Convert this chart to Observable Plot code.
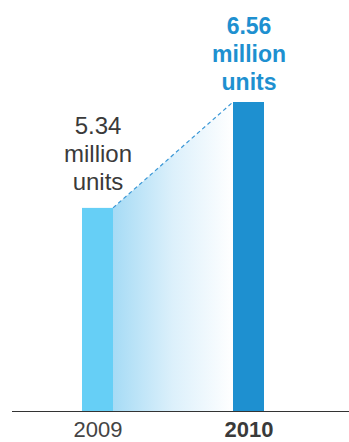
<!DOCTYPE html>
<html>
<head>
<meta charset="utf-8">
<script src="https://cdn.jsdelivr.net/npm/d3@7"></script>
<script src="https://cdn.jsdelivr.net/npm/@observablehq/plot@0.6"></script>
<style>
  html, body { margin: 0; padding: 0; background: #fff; }
  #chart svg { display: block; }
</style>
</head>
<body>
<div id="chart"></div>
<script>
const years = ["2009", "2010"];
const values = [5.34, 6.56];
const labels = ["5.34\nmillion\nunits", "6.56\nmillion\nunits"];
const barColors = ["#66cff6", "#1e90d0"];
const axisBase = 3;

const data = years.map((year, i) => ({year, value: values[i], label: labels[i], color: barColors[i]}));
const first = data.filter(d => d.year === years[0]);
const last = data.filter(d => d.year === years[1]);

const gradientArea = (index, scales) => {
  const x = scales.x, y = scales.y;
  const bw = x.bandwidth ? x.bandwidth() : 31;
  const x0 = x(years[0]) + bw, x1 = x(years[1]);
  const y0 = y(values[0]), y1 = y(values[1]), yb = y(axisBase);
  const g = d3.create("svg:g");
  const grad = g.append("defs").append("linearGradient")
    .attr("id", "fadeGrad").attr("x1", "0").attr("x2", "1").attr("y1", "0").attr("y2", "0");
  grad.append("stop").attr("offset", "0").attr("stop-color", "#a6dbf5");
  grad.append("stop").attr("offset", "0.5").attr("stop-color", "#dcf0fb");
  grad.append("stop").attr("offset", "1").attr("stop-color", "#ffffff");
  g.append("path")
    .attr("d", `M${x0},${y0}L${x1},${y1}L${x1},${yb}L${x0},${yb}Z`)
    .attr("fill", "url(#fadeGrad)");
  g.append("path")
    .attr("d", `M${x0},${y0}L${x1},${y1}`)
    .attr("fill", "none")
    .attr("stroke", "#3a97d6")
    .attr("stroke-width", 1.2)
    .attr("stroke-dasharray", "4,3");
  return g.node();
};

const chart = Plot.plot({
  width: 349,
  height: 442,
  marginLeft: 12,
  marginRight: 0,
  marginTop: 0,
  marginBottom: 31,
  style: {fontFamily: "'Liberation Sans', Arial, sans-serif", background: "#fff"},
  x: {type: "band", domain: years, range: [22, 324], paddingInner: 0.795, paddingOuter: 0.3975, axis: null},
  y: {domain: [axisBase, values[1]], range: [411, 102], axis: null},
  marks: [
    gradientArea,
    Plot.barY(data, {x: "year", y1: axisBase, y2: "value", fill: "color"}),
    Plot.ruleY([axisBase], {stroke: "#333", strokeWidth: 1.2}),
    Plot.text(first, {
      x: "year", y: "value", text: "label", lineAnchor: "bottom", lineHeight: 1.17,
      dy: -18, fontSize: 24, fill: "#3a3a3a"
    }),
    Plot.text(last, {
      x: "year", y: "value", text: "label", lineAnchor: "bottom", lineHeight: 1.2,
      dy: -13, fontSize: 23, fontWeight: "bold", fill: "#1e90d0"
    }),
    Plot.text(first, {
      x: "year", y: axisBase, text: "year", lineAnchor: "top", dy: 10, fontSize: 22,
      fill: "#444"
    }),
    Plot.text(last, {
      x: "year", y: axisBase, text: "year", lineAnchor: "top", dy: 10, fontSize: 22,
      fill: "#3a3a3a", fontWeight: "bold"
    })
  ]
});
document.getElementById("chart").appendChild(chart);
</script>
</body>
</html>
